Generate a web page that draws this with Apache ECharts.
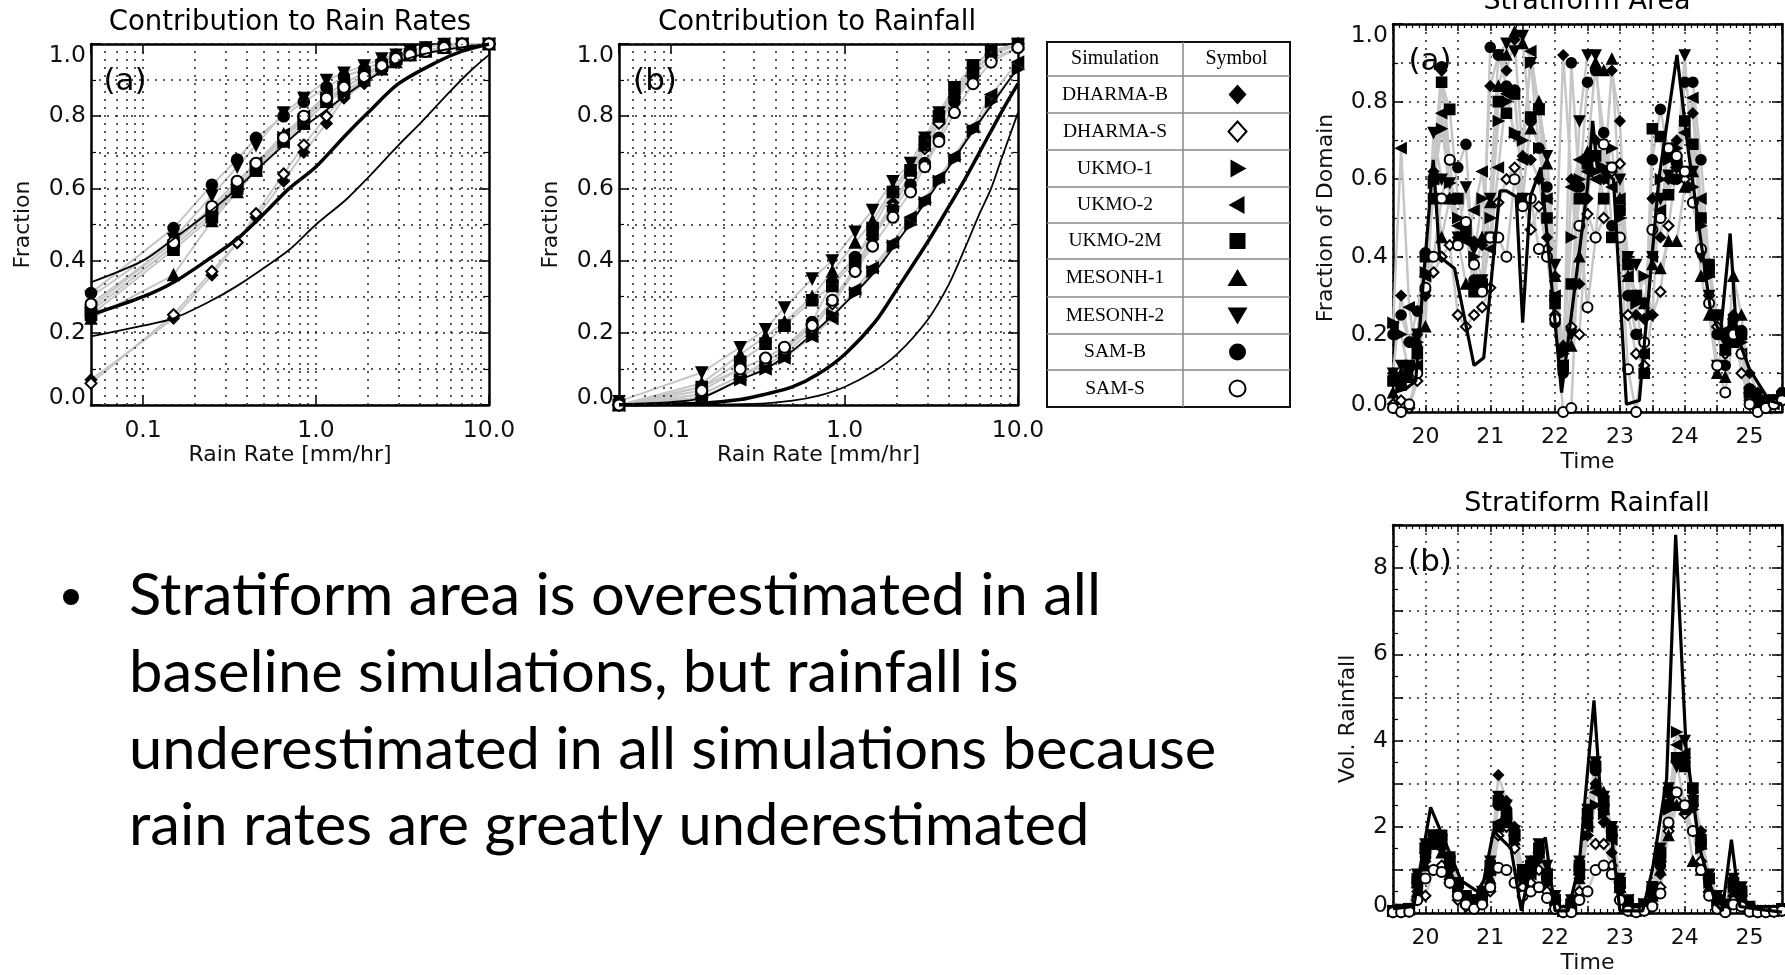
<!DOCTYPE html>
<html><head><meta charset="utf-8">
<script src="https://cdn.jsdelivr.net/npm/echarts@6/dist/echarts.min.js"></script>
<style>html,body{margin:0;padding:0;background:#fff;overflow:hidden}#chart{width:1785px;height:975px}</style>
</head><body><div id="chart"></div><script>
// ---------- labels ----------
const simNames = ['DHARMA-B','DHARMA-S','UKMO-1','UKMO-2','UKMO-2M','MESONH-1','MESONH-2','SAM-B','SAM-S'];
const titles = ['Contribution to Rain Rates','Contribution to Rainfall','Stratiform Area','Stratiform Rainfall'];
const bulletLines = ['Stratiform area is overestimated in all','baseline simulations, but rainfall is','underestimated in all simulations because','rain rates are greatly underestimated'];

// ---------- rain-rate bins (mm/hr) ----------
const rateBins = [0.05,0.15,0.25,0.35,0.45,0.65,0.85,1.15,1.45,1.9,2.4,2.9,3.5,4.3,5.5,7,10];
const rateGridLines = [0.06,0.07,0.08,0.09,0.1,0.2,0.3,0.4,0.5,0.6,0.7,0.8,0.9,1,2,3,4,5,6,7,8,9];

// (a) contribution to rain rates
const rateA_DHARMA_B = [0.07,0.24,0.36,0.45,0.52,0.62,0.70,0.78,0.85,0.89,0.93,0.95,0.97,0.98,0.99,1.0,1.0];
const rateA_DHARMA_S = [0.06,0.25,0.37,0.45,0.53,0.64,0.72,0.80,0.86,0.90,0.93,0.95,0.97,0.98,0.99,1.0,1.0];
const rateA_UKMO_1   = [0.26,0.44,0.53,0.60,0.66,0.74,0.79,0.85,0.88,0.91,0.94,0.96,0.97,0.98,0.99,1.0,1.0];
const rateA_UKMO_2   = [0.27,0.45,0.54,0.61,0.67,0.75,0.80,0.86,0.89,0.92,0.94,0.96,0.98,0.99,1.0,1.0,1.0];
const rateA_UKMO_2M  = [0.25,0.43,0.52,0.60,0.65,0.73,0.78,0.84,0.88,0.91,0.94,0.96,0.97,0.98,0.99,1.0,1.0];
const rateA_MESONH_1 = [0.24,0.36,0.51,0.59,0.65,0.75,0.78,0.84,0.87,0.90,0.93,0.95,0.97,0.98,0.99,1.0,1.0];
const rateA_MESONH_2 = [0.30,0.46,0.58,0.66,0.72,0.81,0.85,0.90,0.92,0.94,0.96,0.97,0.98,0.99,1.0,1.0,1.0];
const rateA_SAM_B    = [0.31,0.49,0.61,0.68,0.74,0.80,0.84,0.88,0.91,0.93,0.95,0.97,0.98,0.99,1.0,1.0,1.0];
const rateA_SAM_S    = [0.28,0.45,0.55,0.62,0.67,0.74,0.80,0.85,0.88,0.91,0.94,0.96,0.97,0.98,0.99,1.0,1.0];
const rateA_obsUpper = [[0.05,0.34],[0.1,0.40],[0.15,0.46],[0.25,0.54],[0.35,0.60],[0.5,0.67],[0.65,0.72],[0.85,0.77],[1.1,0.81],[1.5,0.86],[2,0.90],[3,0.95],[5,0.98],[10,1.0]];
const rateA_obsThick = [[0.05,0.25],[0.1,0.30],[0.15,0.34],[0.25,0.41],[0.35,0.46],[0.5,0.53],[0.7,0.60],[1.0,0.66],[1.5,0.75],[2,0.81],[3,0.89],[5,0.95],[7,0.98],[10,1.0]];
const rateA_obsLower = [[0.05,0.19],[0.1,0.22],[0.15,0.24],[0.25,0.29],[0.35,0.33],[0.5,0.38],[0.7,0.43],[1.0,0.50],[1.5,0.57],[2,0.63],[3,0.72],[4,0.78],[6,0.87],[8,0.93],[10,0.97]];

// (b) contribution to rainfall
const rateB_DHARMA_B = [0.0,0.03,0.08,0.12,0.15,0.22,0.29,0.38,0.47,0.56,0.64,0.72,0.79,0.86,0.93,0.97,1.0];
const rateB_DHARMA_S = [0.0,0.03,0.08,0.11,0.14,0.21,0.28,0.37,0.46,0.55,0.63,0.71,0.78,0.85,0.92,0.97,1.0];
const rateB_UKMO_1   = [0.0,0.02,0.07,0.10,0.13,0.19,0.25,0.31,0.37,0.44,0.50,0.56,0.62,0.68,0.76,0.84,0.93];
const rateB_UKMO_2   = [0.0,0.02,0.07,0.10,0.13,0.19,0.24,0.32,0.38,0.45,0.52,0.57,0.63,0.69,0.77,0.86,0.95];
const rateB_UKMO_2M  = [0.0,0.05,0.12,0.17,0.22,0.29,0.33,0.40,0.49,0.59,0.65,0.73,0.80,0.88,0.94,0.98,1.0];
const rateB_MESONH_1 = [0.0,0.06,0.14,0.19,0.23,0.30,0.37,0.45,0.51,0.60,0.66,0.72,0.80,0.87,0.93,0.97,1.0];
const rateB_MESONH_2 = [0.01,0.09,0.16,0.21,0.27,0.35,0.40,0.48,0.54,0.62,0.67,0.74,0.81,0.88,0.94,0.98,1.0];
const rateB_SAM_B    = [0.0,0.05,0.10,0.13,0.16,0.23,0.34,0.41,0.47,0.54,0.61,0.67,0.74,0.84,0.91,0.96,0.99];
const rateB_SAM_S    = [0.0,0.04,0.10,0.13,0.16,0.22,0.29,0.37,0.44,0.52,0.59,0.66,0.73,0.81,0.89,0.95,0.99];
const rateB_obsUpper = [[0.05,0.003],[0.1,0.008],[0.15,0.02],[0.25,0.07],[0.35,0.10],[0.5,0.15],[0.7,0.21],[1.0,0.28],[1.5,0.37],[2,0.45],[3,0.57],[4,0.66],[5,0.73],[7,0.83],[10,0.935]];
const rateB_obsThick = [[0.05,0],[0.15,0.005],[0.25,0.015],[0.35,0.03],[0.5,0.05],[0.7,0.085],[1.0,0.14],[1.5,0.23],[2,0.32],[3,0.45],[4,0.55],[5,0.63],[6,0.70],[8,0.81],[10,0.89]];
const rateB_obsLower = [[0.05,0],[0.3,0.003],[0.5,0.012],[0.7,0.025],[1.0,0.05],[1.5,0.095],[2,0.14],[3,0.235],[4,0.335],[5,0.44],[6,0.53],[7,0.60],[8,0.68],[10,0.81]];

// ---------- time series ----------
const times = [19.5,19.625,19.75,19.875,20,20.125,20.25,20.375,20.5,20.625,20.75,20.875,21,21.125,21.25,21.375,21.5,21.625,21.75,21.875,22,22.125,22.25,22.375,22.5,22.625,22.75,22.875,23,23.125,23.25,23.375,23.5,23.625,23.75,23.875,24,24.125,24.25,24.375,24.5,24.625,24.75,24.875,25,25.125,25.25,25.375,25.5];

const area_DHARMA_B = [0.10,0.30,0.18,0.20,0.40,0.62,0.88,0.55,0.45,0.45,0.44,0.43,0.84,0.92,0.88,0.96,0.66,0.65,0.60,0.45,0.35,0.92,0.60,0.33,0.55,0.70,0.60,0.88,0.75,0.30,0.25,0.24,0.55,0.45,0.60,0.70,0.75,0.77,0.50,0.38,0.22,0.20,0.25,0.20,0.10,0.05,0.02,0.03,0.04];
const area_DHARMA_S = [0.02,0.03,0.01,0.08,0.30,0.36,0.40,0.43,0.25,0.22,0.25,0.27,0.32,0.54,0.60,0.63,0.55,0.47,0.53,0.42,0.25,0.17,0.22,0.20,0.51,0.45,0.50,0.62,0.64,0.25,0.15,0.12,0.25,0.31,0.48,0.63,0.60,0.54,0.42,0.30,0.22,0.15,0.24,0.10,0.03,0.01,0.01,0.02,0.03];
const area_UKMO_1   = [0.23,0.20,0.10,0.18,0.36,0.59,0.73,0.59,0.50,0.45,0.40,0.55,0.50,0.75,0.80,0.72,0.70,0.90,0.68,0.55,0.30,0.15,0.45,0.60,0.65,0.62,0.63,0.68,0.50,0.40,0.28,0.35,0.25,0.60,0.65,0.68,0.62,0.58,0.48,0.35,0.25,0.20,0.22,0.18,0.05,0.02,0.02,0.03,0.03];
const area_UKMO_2   = [0.22,0.68,0.27,0.12,0.35,0.60,0.77,0.55,0.48,0.44,0.52,0.62,0.42,0.63,0.82,0.71,0.65,0.93,0.78,0.55,0.30,0.12,0.58,0.65,0.62,0.60,0.60,0.58,0.55,0.35,0.20,0.15,0.40,0.52,0.60,0.63,0.72,0.81,0.55,0.36,0.25,0.21,0.20,0.15,0.05,0.02,0.01,0.02,0.03];
const area_UKMO_2M  = [0.08,0.07,0.12,0.15,0.40,0.55,0.85,0.78,0.55,0.47,0.31,0.33,0.45,0.80,0.77,0.82,0.55,0.76,0.78,0.50,0.28,0.12,0.33,0.55,0.64,0.66,0.55,0.45,0.52,0.38,0.30,0.10,0.73,0.71,0.56,0.65,0.75,0.69,0.50,0.38,0.25,0.16,0.18,0.20,0.05,0.02,0.03,0.03,0.04];
const area_MESONH_1 = [0.05,0.10,0.09,0.18,0.22,0.62,0.45,0.55,0.45,0.33,0.34,0.45,0.54,0.84,0.92,0.98,0.95,0.73,0.80,0.64,0.35,0.17,0.17,0.40,0.67,0.90,0.88,0.91,0.55,0.35,0.30,0.28,0.38,0.37,0.44,0.44,0.58,0.62,0.35,0.25,0.10,0.09,0.35,0.25,0.06,0.03,0.02,0.03,0.04];
const area_MESONH_2 = [0.10,0.12,0.10,0.20,0.30,0.72,0.60,0.59,0.45,0.58,0.42,0.34,0.55,0.92,0.95,0.93,0.97,0.90,0.78,0.66,0.38,0.10,0.20,0.75,0.92,0.92,0.62,0.63,0.60,0.40,0.38,0.28,0.40,0.55,0.61,0.63,0.92,0.62,0.40,0.30,0.12,0.18,0.20,0.19,0.05,0.02,0.02,0.03,0.04];
const area_SAM_B    = [0.20,0.25,0.18,0.26,0.41,0.60,0.89,0.65,0.63,0.69,0.34,0.33,0.94,0.92,0.84,0.83,0.55,0.75,0.68,0.58,0.23,0.10,0.90,0.58,0.85,0.88,0.72,0.48,0.52,0.30,0.20,0.15,0.65,0.78,0.67,0.60,0.85,0.85,0.65,0.38,0.20,0.12,0.24,0.21,0.06,0.03,0.02,0.03,0.05];
const area_SAM_S    = [0.01,0.00,0.02,0.10,0.32,0.40,0.55,0.65,0.43,0.49,0.38,0.31,0.45,0.45,0.40,0.60,0.53,0.55,0.42,0.40,0.24,0.00,0.01,0.48,0.27,0.45,0.69,0.63,0.45,0.11,0.00,0.18,0.47,0.50,0.68,0.66,0.62,0.54,0.42,0.28,0.12,0.05,0.20,0.15,0.02,0.00,0.01,0.02,0.03];
const area_obs = [[19.52,0.05],[19.7,0.06],[19.85,0.08],[19.95,0.3],[20.12,0.65],[20.22,0.40],[20.45,0.37],[20.75,0.12],[20.9,0.14],[21.15,0.57],[21.25,0.57],[21.4,0.555],[21.5,0.23],[21.62,0.555],[21.78,0.63],[22.1,0.05],[22.5,0.58],[22.58,0.75],[22.65,0.63],[22.9,0.6],[23.1,0.02],[23.3,0.03],[23.6,0.6],[23.88,0.92],[24.05,0.68],[24.4,0.26],[24.55,0.2],[24.7,0.46],[24.8,0.2],[25.0,0.11],[25.3,0.03],[25.5,0.02]];

const rain_DHARMA_B = [0.05,0.05,0.05,0.5,1.2,1.6,1.5,1.0,0.6,0.3,0.2,0.3,1.0,3.2,2.6,2.0,0.8,0.9,1.3,0.7,0.2,0.05,0.1,0.8,2.2,3.0,2.1,1.4,0.5,0.1,0.05,0.1,0.4,0.9,2.0,3.5,2.5,2.8,1.9,0.8,0.3,0.1,0.4,0.3,0.1,0.05,0.05,0.05,0.1];
const rain_DHARMA_S = [0.02,0.02,0.03,0.3,0.4,1.0,1.1,0.7,0.3,0.15,0.1,0.2,0.5,1.8,2.0,1.5,0.6,0.7,1.0,0.5,0.1,0.02,0.05,0.5,1.8,1.6,1.6,1.1,0.3,0.05,0.02,0.05,0.2,0.6,1.9,2.6,2.3,1.9,1.2,0.5,0.15,0.05,0.3,0.2,0.05,0.02,0.02,0.03,0.05];
const rain_UKMO_1   = [0.05,0.08,0.1,0.7,1.5,1.7,1.6,1.1,0.6,0.3,0.3,0.4,0.9,2.0,2.1,1.7,0.9,1.0,1.2,0.8,0.3,0.05,0.2,1.0,1.8,2.5,2.3,1.8,0.6,0.2,0.1,0.2,0.5,1.2,2.4,4.2,3.6,2.4,1.5,0.7,0.3,0.1,0.6,0.4,0.1,0.05,0.05,0.05,0.08];
const rain_UKMO_2   = [0.05,0.1,0.08,0.6,1.4,1.8,1.7,1.2,0.7,0.35,0.25,0.35,1.0,2.1,2.2,1.8,1.0,0.9,1.4,0.9,0.3,0.05,0.2,0.9,2.0,2.8,2.4,1.7,0.7,0.3,0.1,0.1,0.4,1.3,2.6,3.9,3.7,2.6,1.6,0.8,0.3,0.1,0.7,0.5,0.1,0.05,0.05,0.05,0.08];
const rain_UKMO_2M  = [0.05,0.08,0.1,0.8,1.5,1.8,1.8,1.3,0.7,0.4,0.3,0.4,1.1,2.6,2.3,1.8,1.0,1.1,1.5,0.9,0.3,0.05,0.2,1.1,2.3,3.4,2.6,1.9,0.7,0.2,0.1,0.2,0.6,1.4,2.8,3.6,3.4,2.9,1.7,0.8,0.3,0.15,0.7,0.5,0.1,0.05,0.05,0.05,0.1];
const rain_MESONH_1 = [0.05,0.05,0.08,0.5,1.1,1.6,1.4,0.9,0.5,0.3,0.2,0.3,0.8,2.0,2.1,1.7,0.8,1.2,1.5,1.0,0.3,0.05,0.1,0.8,2.1,3.0,2.8,1.9,0.6,0.2,0.05,0.1,0.4,1.0,1.8,2.5,2.4,1.2,1.0,0.6,0.2,0.1,0.5,0.4,0.1,0.05,0.05,0.05,0.08];
const rain_MESONH_2 = [0.05,0.06,0.1,0.9,1.6,1.8,1.7,1.2,0.6,0.3,0.3,0.5,1.2,2.7,2.5,1.9,1.0,1.2,1.6,1.1,0.4,0.05,0.3,1.2,2.4,3.5,2.7,2.0,0.8,0.3,0.1,0.2,0.6,1.5,2.9,3.4,4.0,2.6,1.8,0.9,0.4,0.2,0.8,0.6,0.15,0.05,0.05,0.05,0.1];
const rain_SAM_B    = [0.05,0.05,0.1,0.7,1.3,1.7,1.6,1.1,0.6,0.3,0.3,0.4,1.0,2.5,2.4,1.9,0.9,1.0,1.4,0.9,0.3,0.05,0.2,1.0,2.2,3.3,2.5,1.8,0.6,0.2,0.1,0.15,0.5,1.1,2.5,3.6,3.5,2.5,1.6,0.8,0.3,0.1,0.6,0.4,0.1,0.05,0.05,0.05,0.1];
const rain_SAM_S    = [0.02,0.02,0.03,0.3,0.8,1.0,0.95,0.7,0.4,0.2,0.1,0.2,0.6,1.05,1.0,0.7,0.4,0.5,0.6,0.35,0.1,0.02,0.02,0.3,0.5,1.0,1.1,0.9,0.3,0.05,0.02,0.05,0.15,0.45,2.1,2.8,2.5,1.9,1.0,0.4,0.1,0.02,0.2,0.15,0.03,0.02,0.02,0.03,0.05];
const rain_obs = [[19.5,0.1],[19.82,0.15],[20.08,2.45],[20.29,1.7],[20.55,0.75],[20.8,0.5],[20.9,0.75],[21.05,1.9],[21.32,1.5],[21.48,0.05],[21.64,1.2],[21.85,1.75],[22.0,0.05],[22.2,0.05],[22.37,1.1],[22.6,4.93],[22.72,2.3],[22.85,2.1],[23.0,0.05],[23.35,0.05],[23.5,1.0],[23.72,3.1],[23.86,8.77],[24.02,3.85],[24.23,1.5],[24.48,0.2],[24.58,0.05],[24.72,1.7],[24.85,0.15],[25.06,0.1],[25.5,0.02]];

// ---------- styles ----------
const SANS = '"DejaVu Sans", sans-serif';
const SERIF = '"Liberation Serif", "DejaVu Serif", serif';
const dotted = {type:[2,6], color:'#222', width:1.5};
const simSymbols = ['diamond','emptyDiamond','triangle','triangle','rect','triangle','triangle','circle','emptyCircle'];
const simRotate  = [0,0,-90,90,0,0,180,0,0];

const rateASets = [rateA_DHARMA_B,rateA_DHARMA_S,rateA_UKMO_1,rateA_UKMO_2,rateA_UKMO_2M,rateA_MESONH_1,rateA_MESONH_2,rateA_SAM_B,rateA_SAM_S];
const rateBSets = [rateB_DHARMA_B,rateB_DHARMA_S,rateB_UKMO_1,rateB_UKMO_2,rateB_UKMO_2M,rateB_MESONH_1,rateB_MESONH_2,rateB_SAM_B,rateB_SAM_S];
const areaSets  = [area_DHARMA_B,area_DHARMA_S,area_UKMO_1,area_UKMO_2,area_UKMO_2M,area_MESONH_1,area_MESONH_2,area_SAM_B,area_SAM_S];
const rainSets  = [rain_DHARMA_B,rain_DHARMA_S,rain_UKMO_1,rain_UKMO_2,rain_UKMO_2M,rain_MESONH_1,rain_MESONH_2,rain_SAM_B,rain_SAM_S];

const grids = [
  {left:91, top:44, width:398, height:361},
  {left:619, top:44, width:399, height:361},
  {left:1393, top:24, width:389, height:388},
  {left:1393, top:525, width:389, height:389}
];

const tickLabel = {color:'#111', fontFamily:SANS, fontSize:23.5};
const nameStyle = {color:'#111', fontFamily:SANS, fontSize:22};
const fmtLog = v => { if (Math.abs(v-0.1)<1e-6) return '0.1'; if (Math.abs(v-1)<1e-6) return '1.0'; if (Math.abs(v-10)<1e-5) return '10.0'; return ''; };

function frameLine(){ return {show:true, onZero:false, lineStyle:{color:'#000', width:2.5}}; }

function xLog(g, top){
  return {type:'log', logBase:10, gridIndex:g, min:0.05, max:10, position: top?'top':'bottom',
    axisLine:frameLine(), axisTick:{show:true, inside:true, length:10, lineStyle:{color:'#000', width:1.5}},
    axisLabel: top?{show:false}:Object.assign({show:true, margin:14, showMinLabel:false, showMaxLabel:true, formatter:fmtLog}, tickLabel),
    splitLine:{show:false}, name: top?'':'Rain Rate [mm/hr]', nameLocation:'middle', nameGap:38, nameTextStyle:nameStyle};
}
function xTime(g, top){
  return {type:'value', gridIndex:g, min:19.5, max:25.5, interval:0.5, position: top?'top':'bottom',
    axisLine:frameLine(), axisTick:{show:true, inside:true, length:7, lineStyle:{color:'#000', width:1.5}},
    minorTick:{show:true, splitNumber:5, length:4, lineStyle:{color:'#000', width:1.2}},
    axisLabel: top?{show:false}:Object.assign({show:true, margin:14, showMinLabel:false, showMaxLabel:false, formatter:v=>Number.isInteger(v)?String(v):''}, tickLabel, {fontSize:22}),
    splitLine: top?{show:false}:{show:true, lineStyle:dotted}, name: top?'':'Time', nameLocation:'middle', nameGap:39, nameTextStyle:nameStyle};
}
function yVal(g, right, max, interval, fmt, name, nameGap, minor){
  return {type:'value', gridIndex:g, min:0, max:max, interval:interval, position: right?'right':'left',
    axisLine:frameLine(), axisTick:{show:true, inside:true, length:10, lineStyle:{color:'#000', width:1.5}},
    minorTick:{show:true, splitNumber:2, length:5, lineStyle:{color:'#000', width:1.2}},
    axisLabel: right?{show:false}:Object.assign({show:true, margin:5, formatter:fmt, verticalAlignMinLabel:'bottom', verticalAlignMaxLabel:'top',
      rich:{lo:{lineHeight:14}}}, tickLabel),
    splitLine: right?{show:false}:{show:true, lineStyle:dotted},
    minorSplitLine: (right||!minor)?{show:false}:{show:true, lineStyle:dotted},
    name: right?'':name, nameLocation:'middle', nameGap:nameGap, nameTextStyle:nameStyle};
}
const fmt1 = v => v===0 ? '{lo|0.0}' : v.toFixed(1);
const fmtRain = v => v===0 ? '{lo|0}' : ((v%2===0 && v<9) ? String(v) : '');

const xAxes = [xLog(0,false), xLog(0,true), xLog(1,false), xLog(1,true), xTime(2,false), xTime(2,true), xTime(3,false), xTime(3,true)];
const yAxes = [yVal(0,false,1,0.2,fmt1,'Fraction',57,true), yVal(0,true,1,0.2,fmt1,'',0,true),
               yVal(1,false,1,0.2,fmt1,'Fraction',57,true), yVal(1,true,1,0.2,fmt1,'',0,true),
               yVal(2,false,1,0.2,fmt1,'Fraction of Domain',56,true), yVal(2,true,1,0.2,fmt1,'',0,true),
               yVal(3,false,9,1,fmtRain,'Vol. Rainfall',34,false), yVal(3,true,9,1,fmtRain,'',0,false)];

const series = [];
function gridLineSeries(ax){
  series.push({type:'line', xAxisIndex:ax, yAxisIndex:ax, data:[], silent:true, z:1, symbol:'none',
    markLine:{silent:true, symbol:['none','none'], label:{show:false}, lineStyle:dotted, emphasis:{disabled:true}, animation:false,
      data: rateGridLines.map(v=>({xAxis:v}))}});
}
function simSeries(ax, xs, sets, size, lw){
  sets.forEach((arr,k)=>{
    series.push({type:'line', name:simNames[k], xAxisIndex:ax, yAxisIndex:ax, z:2,
      data: arr.map((y,i)=>[xs[i], y]), symbol:simSymbols[k], symbolRotate:simRotate[k], symbolSize:size,
      showAllSymbol:true, itemStyle:{color:'#000', borderColor:'#000', borderWidth:1.6},
      lineStyle:{color:'#c6c6c6', width:lw}, emphasis:{disabled:true}, animation:false});
  });
}
function obsSeries(ax, pairs, w, smooth){
  series.push({type:'line', xAxisIndex:ax, yAxisIndex:ax, z:3, data:pairs, symbol:'none', smooth:smooth,
    lineStyle:{color:'#000', width:w}, emphasis:{disabled:true}, animation:false});
}
gridLineSeries(0); gridLineSeries(2);
simSeries(0, rateBins, rateASets, 11, 2);
simSeries(2, rateBins, rateBSets, 11, 2);
obsSeries(0, rateA_obsUpper, 1.8, 0.3); obsSeries(0, rateA_obsThick, 3.5, 0.3); obsSeries(0, rateA_obsLower, 1.8, 0.3);
obsSeries(2, rateB_obsUpper, 1.8, 0.3); obsSeries(2, rateB_obsThick, 3.5, 0.3); obsSeries(2, rateB_obsLower, 1.8, 0.3);
simSeries(4, times, areaSets, 10, 2.5);
simSeries(6, times, rainSets, 10, 2.5);
obsSeries(4, area_obs, 3.2, false);
obsSeries(6, rain_obs, 3.2, false);

// ---------- graphic: titles, panel tags, legend table, bullet ----------
const graphics = [];
function txt(x,y,text,font,align,extra){
  graphics.push(Object.assign({type:'text', x:x, y:y, silent:true, style:{text:text, font:font, fill:'#000', align:align||'center', verticalAlign:'middle', textAlign:align||'center', textVerticalAlign:'middle'}}, extra||{}));
}
txt(290,23,titles[0],'27.5px '+SANS); txt(817,23,titles[1],'27.5px '+SANS);
txt(1587,2,titles[2],'27px '+SANS); txt(1587,504,titles[3],'27px '+SANS);
txt(125,82,'(a)','31px '+SANS); txt(655,82,'(b)','31px '+SANS);
txt(1430,62,'(a)','31px '+SANS); txt(1430,563,'(b)','31px '+SANS);

// legend table
const tblL=1047, tblR=1290, tblDiv=1183;
const rowY=[42,76,113,150,187,223,259,297,334,370,407];
graphics.push({type:'rect', silent:true, shape:{x:tblL,y:rowY[0],width:tblR-tblL,height:rowY[10]-rowY[0]}, style:{fill:'#fff', stroke:'#111', lineWidth:2}, z:10});
for (let r=1;r<10;r++) graphics.push({type:'line', silent:true, shape:{x1:tblL,y1:rowY[r],x2:tblR,y2:rowY[r]}, style:{stroke:'#888', lineWidth:1.5}, z:11});
graphics.push({type:'line', silent:true, shape:{x1:tblDiv,y1:rowY[0],x2:tblDiv,y2:rowY[10]}, style:{stroke:'#888', lineWidth:1.5}, z:11});
txt((tblL+tblDiv)/2,(rowY[0]+rowY[1])/2,'Simulation','20px '+SERIF,'center',{z:12});
txt((tblDiv+tblR)/2,(rowY[0]+rowY[1])/2,'Symbol','20px '+SERIF,'center',{z:12});
function legendSym(k,cx,cy){
  const blk={fill:'#000'}, wht={fill:'#fff', stroke:'#000', lineWidth:2};
  let el;
  switch(k){
    case 0: el={type:'polygon', shape:{points:[[cx,cy-10],[cx+9,cy],[cx,cy+10],[cx-9,cy]]}, style:blk}; break;
    case 1: el={type:'polygon', shape:{points:[[cx,cy-10],[cx+9,cy],[cx,cy+10],[cx-9,cy]]}, style:wht}; break;
    case 2: el={type:'polygon', shape:{points:[[cx-7,cy-9],[cx+9,cy],[cx-7,cy+9]]}, style:blk}; break;
    case 3: el={type:'polygon', shape:{points:[[cx+7,cy-9],[cx-9,cy],[cx+7,cy+9]]}, style:blk}; break;
    case 4: el={type:'rect', shape:{x:cx-8,y:cy-8,width:16,height:16}, style:blk}; break;
    case 5: el={type:'polygon', shape:{points:[[cx,cy-9],[cx+10,cy+8],[cx-10,cy+8]]}, style:blk}; break;
    case 6: el={type:'polygon', shape:{points:[[cx,cy+9],[cx+10,cy-8],[cx-10,cy-8]]}, style:blk}; break;
    case 7: el={type:'circle', shape:{cx:cx,cy:cy,r:8.5}, style:blk}; break;
    default: el={type:'circle', shape:{cx:cx,cy:cy,r:8}, style:wht};
  }
  el.silent=true; el.z=12; graphics.push(el);
}
simNames.forEach((n,k)=>{
  const cy=(rowY[k+1]+rowY[k+2])/2;
  txt((tblL+tblDiv)/2, cy, n, '19.5px '+SERIF, 'center', {z:12});
  legendSym(k, (tblDiv+tblR)/2+1, cy);
});

// bullet text
const BFONT = '58px Lato, "Open Sans", sans-serif';
const mctx = document.createElement('canvas').getContext('2d');
mctx.font = BFONT;
const bScale = 972 / mctx.measureText(bulletLines[0]).width;
graphics.push({type:'circle', silent:true, shape:{cx:71, cy:597, r:8}, style:{fill:'#000'}});
const lineMid=[596,673,750,826];
bulletLines.forEach((t,i)=>{
  graphics.push({type:'text', silent:true, x:129, y:lineMid[i], scaleX:bScale, style:{text:t, font:BFONT, fill:'#000', align:'left', verticalAlign:'middle', textAlign:'left', textVerticalAlign:'middle'}});
});

const chart = echarts.init(document.getElementById('chart'), null, {renderer:'canvas'});
chart.setOption({
  animation:false, backgroundColor:'#fff',
  grid: grids, xAxis: xAxes, yAxis: yAxes, series: series, graphic: graphics
});
</script></body></html>
